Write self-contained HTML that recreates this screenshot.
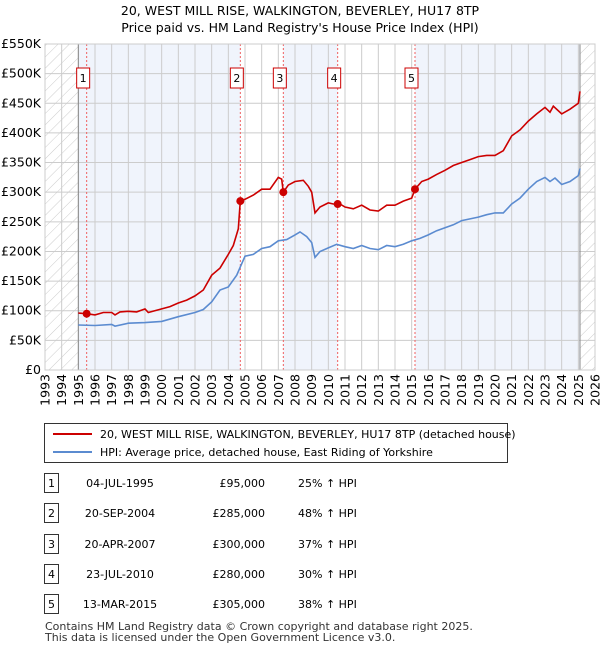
<!DOCTYPE html>
<html><head><meta charset="utf-8"><style>
body{margin:0;background:#fff;font-family:"Liberation Sans","DejaVu Sans",sans-serif;}
svg text{font-family:"DejaVu Sans","Liberation Sans",sans-serif;}
</style></head><body>
<svg id="c" width="600" height="650" xmlns="http://www.w3.org/2000/svg">
<defs><pattern id="h" width="8" height="8" patternUnits="userSpaceOnUse" patternTransform="rotate(45)"><line x1="0" y1="0" x2="0" y2="8" stroke="#ccc" stroke-width="1"/></pattern></defs>
<text x="300" y="15" text-anchor="middle" font-size="12.5">20, WEST MILL RISE, WALKINGTON, BEVERLEY, HU17 8TP</text>
<text x="300" y="32" text-anchor="middle" font-size="12.5">Price paid vs. HM Land Registry's House Price Index (HPI)</text>
<g id="plot"></g>
<g>
<rect x="44.5" y="423.5" width="463" height="39" fill="#fff" stroke="#333"/>
<line x1="53" y1="434" x2="92" y2="434" stroke="#cc0000" stroke-width="2"/>
<text x="100" y="438" font-size="11">20, WEST MILL RISE, WALKINGTON, BEVERLEY, HU17 8TP (detached house)</text>
<line x1="53" y1="452" x2="92" y2="452" stroke="#5b8bd0" stroke-width="2"/>
<text x="100" y="456" font-size="11">HPI: Average price, detached house, East Riding of Yorkshire</text>
</g>
<g id="tbl" font-size="11"></g>
<text x="45" y="630" font-size="11" fill="#333">Contains HM Land Registry data © Crown copyright and database right 2025.</text>
<text x="45" y="641" font-size="11" fill="#333">This data is licensed under the Open Government Licence v3.0.</text>
</svg>
<script>
const hpiYears=[1995,1996,1997,1997.2,1998,1999,2000,2001,2002,2002.5,2003,2003.5,2004,2004.5,2005,2005.5,2006,2006.5,2007,2007.5,2008,2008.3,2008.7,2009,2009.2,2009.5,2010,2010.5,2011,2011.5,2012,2012.5,2013,2013.5,2014,2014.5,2015,2015.5,2016,2016.5,2017,2017.5,2018,2018.5,2019,2019.5,2020,2020.5,2021,2021.5,2022,2022.5,2023,2023.3,2023.6,2024,2024.5,2025,2025.1];
const hpiValues=[76,75,77,74,79,80,82,90,97,102,115,135,140,160,192,195,205,208,218,220,228,233,225,215,190,200,206,212,208,205,210,205,203,210,208,212,218,222,228,235,240,245,252,255,258,262,265,265,280,290,305,318,325,318,324,313,318,328,340];
const priceYears=[1995,1995.5,1996,1996.5,1997,1997.2,1997.5,1998,1998.5,1999,1999.2,2000,2000.5,2001,2001.5,2002,2002.5,2003,2003.5,2004,2004.3,2004.6,2004.72,2005,2005.5,2006,2006.5,2007,2007.2,2007.3,2007.6,2008,2008.5,2008.8,2009,2009.2,2009.5,2010,2010.3,2010.56,2010.7,2011,2011.5,2012,2012.5,2013,2013.5,2014,2014.5,2015,2015.2,2015.6,2016,2016.5,2017,2017.5,2018,2018.5,2019,2019.5,2020,2020.5,2021,2021.5,2022,2022.5,2023,2023.3,2023.5,2024,2024.5,2025,2025.1];
const priceValues=[96,95,93,97,97,93,98,99,98,103,97,103,107,113,118,125,135,160,172,195,210,238,285,288,295,305,305,325,322,300,312,318,320,310,300,265,275,282,280,280,280,275,272,278,270,268,278,278,285,290,305,318,322,330,337,345,350,355,360,362,362,370,395,405,420,432,443,435,445,432,440,450,470];
const saleLabels=["1","2","3","4","5"];
const saleYears=[1995.5,2004.72,2007.3,2010.56,2015.2];
const salePrices=[95,285,300,280,305];
const saleDates=["04-JUL-1995","20-SEP-2004","20-APR-2007","23-JUL-2010","13-MAR-2015"];
const salePriceText=["£95,000","£285,000","£300,000","£280,000","£305,000"];
const saleHpiText=["25% ↑ HPI","48% ↑ HPI","37% ↑ HPI","30% ↑ HPI","38% ↑ HPI"];
const yTicks=[0,50,100,150,200,250,300,350,400,450,500,550];
const yTickLabels=["£0","£50K","£100K","£150K","£200K","£250K","£300K","£350K","£400K","£450K","£500K","£550K"];
const xTicks=[1993,1994,1995,1996,1997,1998,1999,2000,2001,2002,2003,2004,2005,2006,2007,2008,2009,2010,2011,2012,2013,2014,2015,2016,2017,2018,2019,2020,2021,2022,2023,2024,2025,2026];

const X0=45,X1=595,Y0=370,Y1=44;
const xs=y=>X0+(y-1993)/(2026-1993)*(X1-X0);
const ys=v=>Y0-v/550*(Y0-Y1);
const NS="http://www.w3.org/2000/svg";
function mk(p,t,a){const e=document.createElementNS(NS,t);for(const k in a)e.setAttribute(k,a[k]);p.appendChild(e);return e;}
const g=document.getElementById('plot');
const bandEdges=[1995,...saleYears.slice(1),2025.1];
for(let i=0;i<bandEdges.length-1;i+=2){
  const r=mk(g,'rect',{x:xs(bandEdges[i]),y:Y1,width:xs(bandEdges[i+1])-xs(bandEdges[i]),height:Y0-Y1,fill:'#f0f4fc'});
  
  
}
const hl=mk(g,'rect',{x:X0,y:Y1,width:xs(1995)-X0,height:Y0-Y1,fill:'url(#h)'});


const hr=mk(g,'rect',{x:xs(2025.1),y:Y1,width:X1-xs(2025.1),height:Y0-Y1,fill:'url(#h)'});


yTicks.forEach((v,i)=>{
  const l=mk(g,'line',{x1:X0,x2:X1,y1:ys(v),y2:ys(v),stroke:'#ccc','stroke-width':1});
  
  
  const t=mk(g,'text',{x:X0-4,y:ys(v)+4,'text-anchor':'end','font-size':12.5});
  t.textContent=yTickLabels[i];
  
  
});
xTicks.forEach(yr=>{
  const l=mk(g,'line',{x1:xs(yr),x2:xs(yr),y1:Y1,y2:Y0,stroke:'#ccc','stroke-width':1});
  
  
  const t=mk(g,'text',{transform:`translate(${xs(yr)+4.5},${Y0+4}) rotate(-90)`,'text-anchor':'end','font-size':12.5});
  t.textContent=yr;
  
  
});
[1995,2025.1].forEach(yr=>{const l=mk(g,'line',{x1:xs(yr),x2:xs(yr),y1:Y1,y2:Y0,stroke:'#888','stroke-width':1});
  
  });
saleYears.forEach((yr,i)=>{
  const l=mk(g,'line',{x1:xs(yr),x2:xs(yr),y1:Y1,y2:Y0,stroke:'#f06060','stroke-width':1,'stroke-dasharray':'2,2'});
  
  
  const r=mk(g,'rect',{x:xs(yr)-10,y:68,width:13,height:20,fill:'#fff',stroke:'#cc0000'});
  
  
  const t=mk(g,'text',{x:xs(yr)-3.5,y:82,'text-anchor':'middle','font-size':11});
  t.textContent=saleLabels[i];
  
  
});
const pts=(xa,va)=>xa.map((x,i)=>xs(x).toFixed(1)+','+ys(va[i]).toFixed(1)).join(' ');
const hp=mk(g,'polyline',{points:pts(hpiYears,hpiValues),fill:'none',stroke:'#5b8bd0','stroke-width':1.6});


const pp=mk(g,'polyline',{points:pts(priceYears,priceValues),fill:'none',stroke:'#cc0000','stroke-width':1.6});


saleYears.forEach((yr,i)=>{
  const c=mk(g,'circle',{cx:xs(yr),cy:ys(salePrices[i]),r:4,fill:'#cc0000'});
  
  
});
const fr=mk(g,'rect',{x:X0,y:Y1,width:X1-X0,height:Y0-Y1,fill:'none',stroke:'#ccc'});


const tb=document.getElementById('tbl');
const rowY=[483,513,544,574,604];
saleLabels.forEach((lab,i)=>{
  const y=rowY[i];
  const r=mk(tb,'rect',{x:44.5,y:y-9.5,width:14,height:19,fill:'#fff',stroke:'#333'});
  
  
  const vals=[[51.5,'middle',lab,'table-row-number'],[120,'middle',saleDates[i],'table-date'],[265,'end',salePriceText[i],'table-price'],[298,'start',saleHpiText[i],'table-hpi-change']];
  vals.forEach(v=>{
    const t=mk(tb,'text',{x:v[0],y:y+4,'text-anchor':v[1]});
    t.textContent=v[2];
    
    
  });
});
</script>
</body></html>
